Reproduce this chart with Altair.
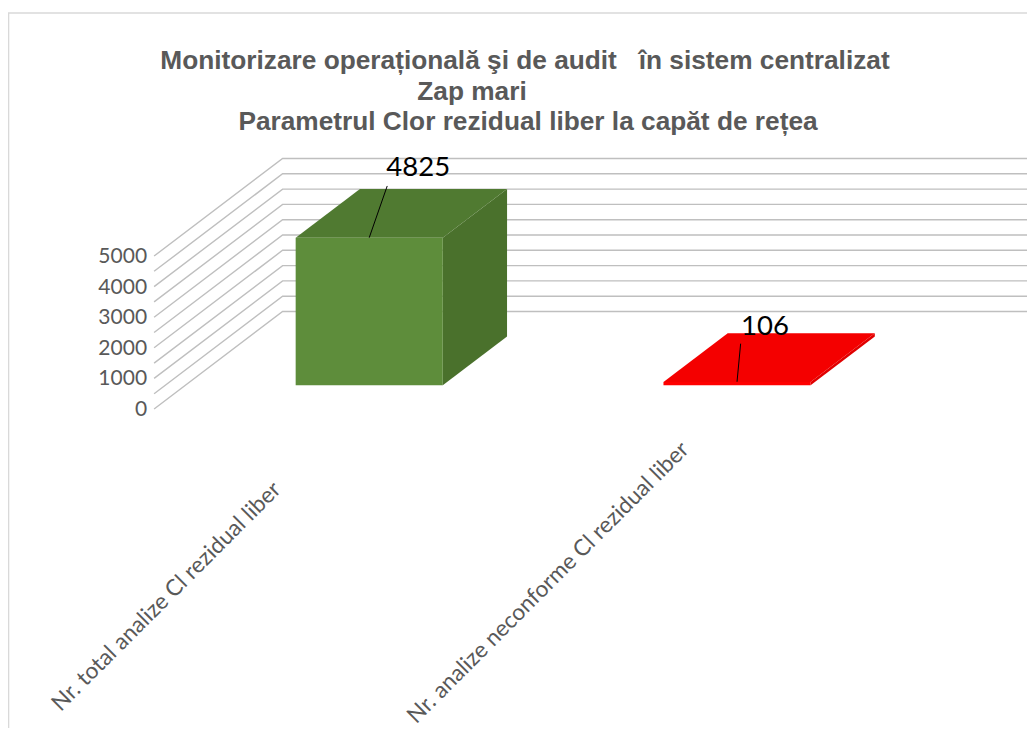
import altair as alt

# ---- chart values ----
categories = ["Nr. total analize Cl rezidual liber", "Nr. analize neconforme Cl rezidual liber"]
values = [4825, 106]
cat_centres = [0.5, 1.5]
tick_labels = [0, 1000, 2000, 3000, 4000, 5000]
grid_values = [0, 500, 1000, 1500, 2000, 2500, 3000, 3500, 4000, 4500, 5000]
title_lines = [
    "Monitorizare operațională şi de audit\u00a0\u00a0 în sistem centralizat",
    "Zap mari",
    "Parametrul Clor rezidual liber la capăt de rețea",
]
front_colors = ["#5e8d3b", "#ff0000"]
top_colors = ["#507a31", "#f40000"]
side_colors = ["#4a712c", "#e00000"]

# ---- oblique projection of the 3-D scene onto the x (category) / y (value) scales ----
W, H = 1019, 720
PX_PER_CAT = 367.8
PX_PER_VAL = 0.0306
X0_DOMAIN = -(154.1 - 8) / PX_PER_CAT
Y_BOTTOM = -(H - 401) / PX_PER_VAL
x_scale = alt.Scale(domain=[X0_DOMAIN, X0_DOMAIN + W / PX_PER_CAT], range=[0, W], nice=False, zero=False)
y_scale = alt.Scale(domain=[Y_BOTTOM, Y_BOTTOM + H / PX_PER_VAL], range=[H, 0], nice=False, zero=False)
DEPTH_X = 128.5 / PX_PER_CAT
DEPTH_Y = 97.5 / PX_PER_VAL
BAR_W = 0.4
D0, D1 = 0.243, 0.743
WALL_END = 2.0375


def px(c, d):
    return c + d * DEPTH_X


def py(v, d):
    return v + d * DEPTH_Y


X = alt.X("x:Q", scale=x_scale, axis=None)
Y = alt.Y("y:Q", scale=y_scale, axis=None)

# border
border = [
    alt.Chart(alt.Data(values=[{"a": 1}])).mark_rule(color="#d9d9d9", strokeWidth=1.6).encode(
        x=alt.value(0.5), y=alt.value(5), y2=alt.value(H)),
    alt.Chart(alt.Data(values=[{"a": 1}])).mark_rule(color="#d9d9d9", strokeWidth=1.6).encode(
        x=alt.value(0), x2=alt.value(W), y=alt.value(5)),
]

# gridlines: side wall then back wall
grid_rows = []
for v in grid_values:
    grid_rows += [
        {"t": v, "o": 0, "x": px(0, 0), "y": py(v, 0)},
        {"t": v, "o": 1, "x": px(0, 1), "y": py(v, 1)},
        {"t": v, "o": 2, "x": px(WALL_END, 1), "y": py(v, 1)},
    ]
grid = alt.Chart(alt.Data(values=grid_rows)).mark_line(color="#bfbfbf", strokeWidth=1.4).encode(
    x=X, y=Y, detail="t:N", order="o:Q")

# tick labels
ticks = alt.Chart(alt.Data(values=[{"x": px(0, 0), "y": py(v, 0), "t": str(v)} for v in tick_labels])).mark_text(
    align="right", baseline="middle", font="Lato", fontSize=21, color="#595959", dx=-7, dy=1
).encode(x=X, y=Y, text="t:N")

# bars
bars = []
for c, v, fc, tc, sc in zip(cat_centres, values, front_colors, top_colors, side_colors):
    l, r = c - BAR_W / 2, c + BAR_W / 2
    side = [
        {"x": px(r, D0), "y": py(0, D0), "y2": py(v, D0)},
        {"x": px(r, D1), "y": py(0, D1), "y2": py(v, D1)},
    ]
    top = [
        {"y": py(v, D0), "x": px(l, D0), "x2": px(r, D0)},
        {"y": py(v, D1), "x": px(l, D1), "x2": px(r, D1)},
    ]
    front = [{"x": px(l, D0), "x2": px(r, D0), "y": py(0, D0), "y2": py(v, D0)}]
    bars.append(alt.Chart(alt.Data(values=side)).mark_area(color=sc, orient="vertical").encode(
        x=X, y=Y, y2="y2:Q"))
    bars.append(alt.Chart(alt.Data(values=top)).mark_area(color=tc, orient="horizontal").encode(
        x=X, x2="x2:Q", y=Y))
    bars.append(alt.Chart(alt.Data(values=front)).mark_rect(color=fc).encode(
        x=X, x2="x2:Q", y=Y, y2="y2:Q"))

# leader lines and data labels (pixel offsets converted to scene units)
leaders = [(18.0, -51.7, 0.0, 0.0), (3.6, -38.4, 0.0, 0.3)]
label_off = [(49, -70), (28, -55)]
labels = []
for c, v, (ex, ey, sx, sy), (dx, dy) in zip(cat_centres, values, leaders, label_off):
    x0, y0 = px(c, D0), py(v, D0)
    row = {"x": x0 + sx / PX_PER_CAT, "y": y0 + sy / PX_PER_VAL,
           "x2": x0 + ex / PX_PER_CAT, "y2": y0 + ey * -1 / PX_PER_VAL}
    labels.append(alt.Chart(alt.Data(values=[row])).mark_rule(color="#000000", strokeWidth=1).encode(
        x=X, y=Y, x2="x2:Q", y2="y2:Q"))
    labels.append(alt.Chart(alt.Data(values=[{"x": x0, "y": y0, "t": str(v)}])).mark_text(
        font="Lato", fontSize=27.5, color="#000000", align="center", baseline="middle", dx=dx, dy=dy
    ).encode(x=X, y=Y, text="t:N"))

# category labels
cat_ends = [(269, 478), (677, 438)]
cat_marks = [
    alt.Chart(alt.Data(values=[{"t": t}])).mark_text(
        font="Lato", fontSize=22.6, color="#595959", align="right", baseline="middle", angle=315
    ).encode(x=alt.value(e[0]), y=alt.value(e[1]), text="t:N")
    for t, e in zip(categories, cat_ends)
]

# title lines
title_pos = [(517, 53), (464, 84), (520, 114)]
title_marks = [
    alt.Chart(alt.Data(values=[{"t": t}])).mark_text(
        font="Liberation Sans", fontSize=26.25, fontWeight="bold", color="#595959", align="center", baseline="middle"
    ).encode(x=alt.value(p[0]), y=alt.value(p[1]), text="t:N")
    for t, p in zip(title_lines, title_pos)
]

chart = alt.layer(*border, grid, ticks, *bars, *labels, *cat_marks, *title_marks).properties(
    width=W, height=H, padding=0, autosize="none", background="#ffffff"
).configure_view(stroke=None)

chart.save("out.html", embed_options={"renderer": "svg", "actions": False})
